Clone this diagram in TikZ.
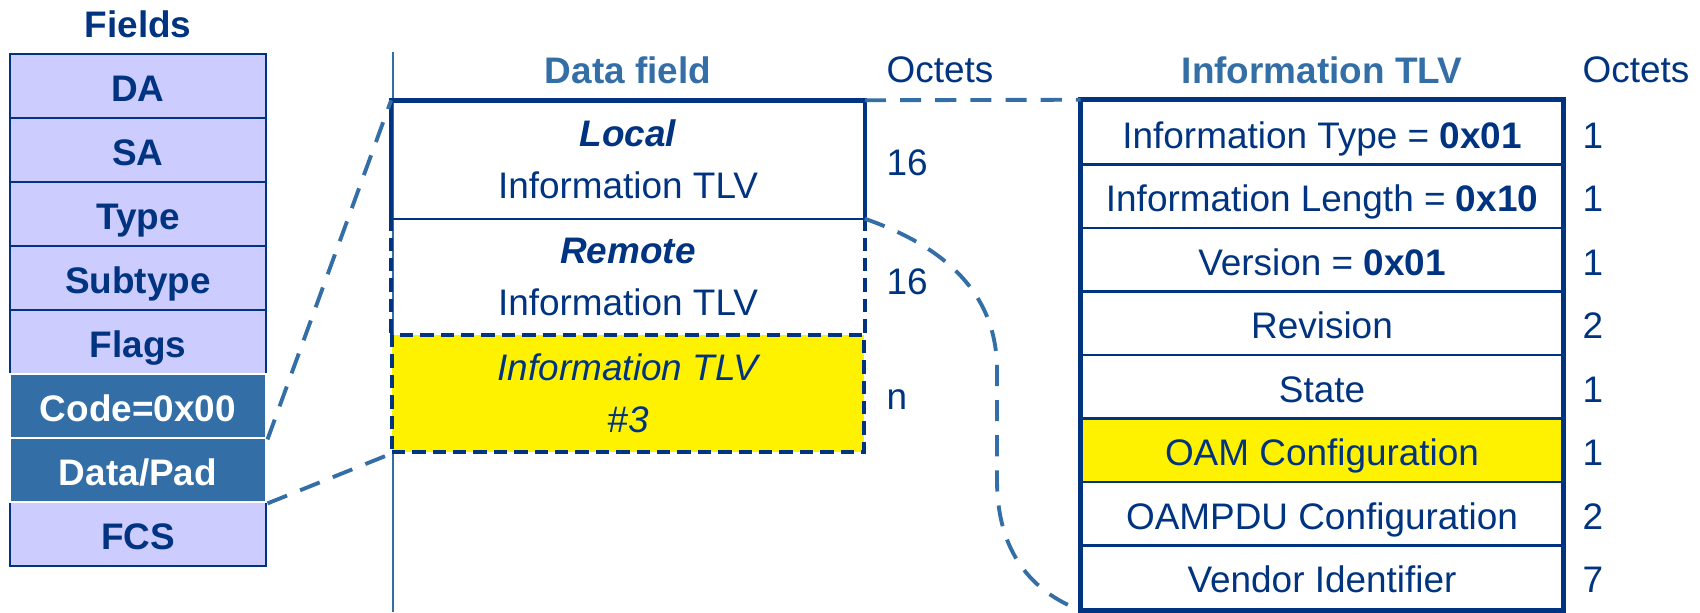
\documentclass[tikz,border=0pt]{standalone}
\usepackage{fontspec}
\setmainfont{Liberation Sans}
\usepackage{tikz}
\definecolor{navy}{RGB}{0,51,128}
\definecolor{steel}{RGB}{51,110,166}
\definecolor{lav}{RGB}{204,204,255}

\begin{document}
\begin{tikzpicture}[x=0.01cm, y=-0.01cm,
        every node/.style={text=navy, inner sep=0pt, font=\fontsize{10.5}{14.8}\selectfont},
        oneline/.style={text height=8.9pt, text depth=0pt},
        field/.style={rectangle, oneline, draw=navy, line width=0.8pt, fill=lav, minimum width=2.56cm, minimum height=0.64cm, font=\fontsize{10.5}{14.8}\selectfont\bfseries},
        pick/.style={field, draw=white, fill=steel, text=white},
        slot/.style={rectangle, minimum width=4.72cm, minimum height=1.17cm, align=center},
        row/.style={rectangle, oneline, draw=navy, line width=0.7pt, minimum width=4.8cm, minimum height=0.635cm},
        octet/.style={anchor=west, oneline},
        title/.style={font=\fontsize{10.5}{14.8}\selectfont\bfseries},
        thickdash/.style={line width=1.3pt, dash pattern=on 3.8pt off 2pt},
        link/.style={steel, line width=1.1pt, dash pattern=on 6pt off 4pt}]
        \useasboundingbox (0,0) rectangle (1700,612);

        % divider
        \coordinate (vtop) at (393,52);
        \coordinate (vbot) at (393,612);
        \draw[steel, line width=0.6pt] (vtop) -- (vbot);

        % Fields
        \node[title] (fields) at (138,24) {Fields};
        \node[field] (da) at (138,86) {DA};
        \node[field] (sa) at (138,150) {SA};
        \node[field] (type) at (138,214) {Type};
        \node[field] (subtype) at (138,278) {Subtype};
        \node[field] (flags) at (138,342) {Flags};
        \node[field] (fcs) at (138,534) {FCS};
        \node[pick] (code) at (138,406) {Code=0x00};
        \node[pick] (data) at (138,470) {Data/Pad};

        % Data field
        \node[title, text=steel] (datafield) at (628,70) {Data field};
        \node[slot] (local) at (628,159.5) {\textbf{\textit{Local}}\\Information TLV};
        \node[slot] (remote) at (628,276.5) {\textbf{\textit{Remote}}\\Information TLV};
        \node[slot, fill=yellow, draw=navy, thickdash, font=\fontsize{10.5}{14.8}\selectfont\itshape] (tlvthree) at (628,393.5) {Information TLV\\\#3};
        \draw[navy, line width=1.3pt] (local.south west) -- (local.north west) -- (local.north east) -- (local.south east);
        \draw[navy, line width=0.6pt] (local.south west) -- (local.south east);
        \draw[navy, thickdash] (remote.north west) -- (remote.south west);
        \draw[navy, thickdash] (remote.north east) -- (remote.south east);

        \node[anchor=west] (octmid) at (886,70) {Octets};
        \node[octet] (nlocal) at (886,160) {16};
        \node[octet] (nremote) at (886,279) {16};
        \node[octet] (nthree) at (886,394) {n};

        % Information TLV
        \node[title, text=steel] (tlvtitle) at (1322,70) {Information TLV};
        \node[row] (itype) at (1322,132.75) {Information Type = \textbf{0x01}};
        \node[row] (ilength) at (1322,196.25) {Information Length = \textbf{0x10}};
        \node[row] (version) at (1322,259.75) {Version = \textbf{0x01}};
        \node[row] (revision) at (1322,323.25) {Revision};
        \node[row] (state) at (1322,386.75) {State};
        \node[row, fill=yellow] (oamconf) at (1322,450.25) {OAM Configuration};
        \node[row] (pduconf) at (1322,513.75) {OAMPDU Configuration};
        \node[row] (vendor) at (1322,577.25) {Vendor Identifier};
        \draw[navy, line width=1.5pt] (itype.north west) rectangle (vendor.south east);

        \node[anchor=west] (octright) at (1582,70) {Octets};
        \node[octet] (ntype) at (1582,132.75) {1};
        \node[octet] (nlength) at (1582,196.25) {1};
        \node[octet] (nversion) at (1582,259.75) {1};
        \node[octet] (nrevision) at (1582,323.25) {2};
        \node[octet] (nstate) at (1582,386.75) {1};
        \node[octet] (noam) at (1582,450.25) {1};
        \node[octet] (npdu) at (1582,513.75) {2};
        \node[octet] (nvendor) at (1582,577.25) {7};

        % zoom lines
        \draw[link] (code.south east) -- (local.north west);
        \draw[link] (data.south east) -- (tlvthree.south west);
        \draw[link] (local.north east) -- (itype.north west);
        \draw[link] (local.south east) .. controls (940,245) and (997,290) .. (997,370)
            -- (997,480) .. controls (997,560) and (1040,595) .. (vendor.south west);
    \end{tikzpicture}
\end{document}
